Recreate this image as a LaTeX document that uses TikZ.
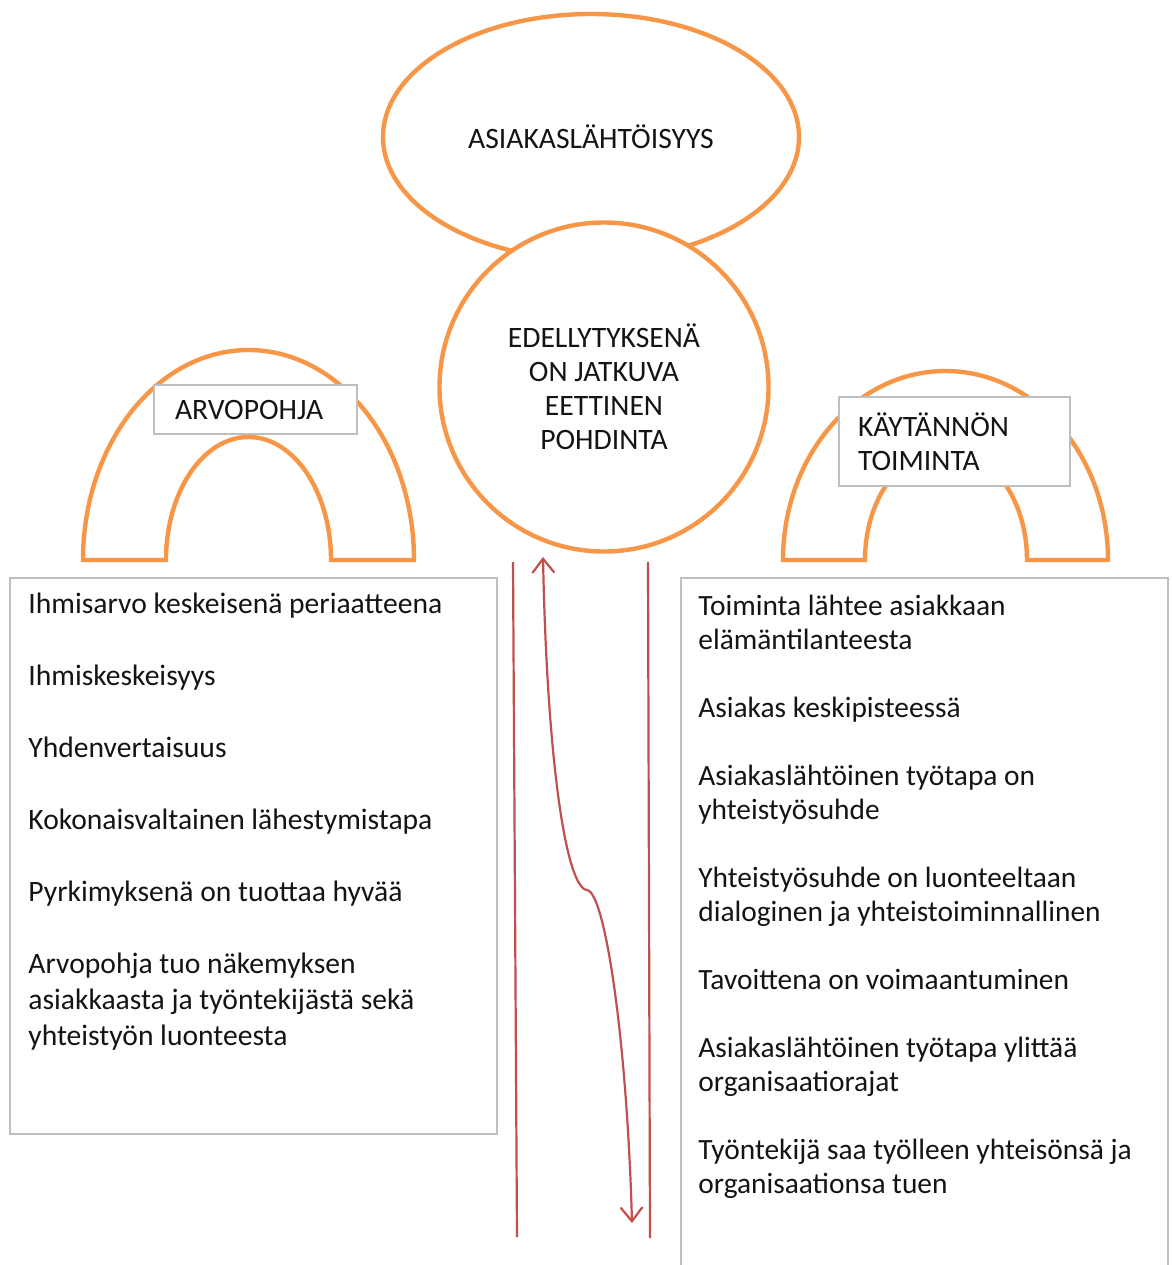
\documentclass[tikz,border=0pt]{standalone}
\usepackage{fontspec}
\setmainfont{Carlito}
\usetikzlibrary{arrows.meta,positioning,shapes.geometric}
\definecolor{archorange}{RGB}{247,150,70}
\definecolor{linered}{RGB}{192,80,77}
\definecolor{boxgray}{RGB}{191,191,191}
\definecolor{fontgray}{RGB}{20,20,20}

\begin{document}
\begin{tikzpicture}[x=0.5pt, y=-0.5pt, >={Straight Barb[length=7pt,width=11pt]},
	bigellipse/.style={draw=archorange, line width=2.2pt, ellipse, fill=white, minimum width=208pt, minimum height=123pt, inner sep=0pt, text=fontgray, font=\fontsize{14.8}{17}\selectfont},
	bigcircle/.style={draw=archorange, line width=2.2pt, circle, fill=white, minimum size=164.5pt, inner sep=0pt, align=center, text=fontgray, font=\fontsize{14.8}{17}\selectfont},
	arch/.style={draw=archorange, line width=2.2pt, fill=white},
	titlebox/.style={draw=boxgray, line width=1pt, fill=white, rectangle, align=left, inner ysep=0pt, text=fontgray, font=\fontsize{14.8}{17}\selectfont},
	listbox/.style={draw=boxgray, line width=1pt, fill=white, rectangle, inner sep=0pt},
	listtext/.style={draw=none, align=left, inner sep=0pt, text=fontgray},
	splitLine/.style={line width=1.1pt, color=linered},
	chainLine/.style={line width=1.1pt, <->, color=linered}
	]
	\useasboundingbox (0,0) rectangle (1172,1265);
	
	\node[bigellipse](asiakas) at (591,137) {ASIAKASLÄHTÖISYYS};
	\node[bigcircle](pohdinta) at (604,387) {EDELLYTYKSENÄ\\ON JATKUVA\\EETTINEN\\POHDINTA};
	
	% arches
	\draw[arch] (83,560) arc[start angle=180, end angle=360, x radius=165.5, y radius=210]
		-- (331,560) arc[start angle=0, end angle=-180, x radius=82.5, y radius=123] -- cycle;
	\draw[arch] (783,560) arc[start angle=180, end angle=360, x radius=162.5, y radius=189]
		-- (1027,560) arc[start angle=0, end angle=-180, x radius=81, y radius=111] -- cycle;
	
	\node[titlebox, inner xsep=10.5pt, text width=80.5pt, minimum height=24.5pt](arvo) at (255.5,409.5) {ARVOPOHJA};
	\node[titlebox, inner xsep=9.5pt, text width=96.5pt, minimum height=44.5pt](kaytanto) at (954.5,441.5) {KÄYTÄNNÖN\\TOIMINTA};
	
	% lists
	\node[listbox, minimum width=243.5pt, minimum height=278pt, anchor=north west](leftbox) at (9,577) {};
	\node[listbox, minimum width=243.5pt, minimum height=347.5pt, anchor=north west](rightbox) at (680,577) {};
	
	\node[listtext, font=\fontsize{14.8}{18}\selectfont, below right=8pt and 9.5pt of leftbox.north west](lefttext) {Ihmisarvo keskeisenä periaatteena\\[18pt]
		Ihmiskeskeisyys\\[18pt]
		Yhdenvertaisuus\\[18pt]
		Kokonaisvaltainen lähestymistapa\\[18pt]
		Pyrkimyksenä on tuottaa hyvää\\[18pt]
		Arvopohja tuo näkemyksen\\asiakkaasta ja työntekijästä sekä\\yhteistyön luonteesta};
	\node[listtext, font=\fontsize{14.7}{17}\selectfont, below right=9pt and 9pt of rightbox.north west](righttext) {Toiminta lähtee asiakkaan\\elämäntilanteesta\\[17pt]
		Asiakas keskipisteessä\\[17pt]
		Asiakaslähtöinen työtapa on\\yhteistyösuhde\\[17pt]
		Yhteistyösuhde on luonteeltaan\\dialoginen ja yhteistoiminnallinen\\[17pt]
		Tavoittena on voimaantuminen\\[17pt]
		Asiakaslähtöinen työtapa ylittää\\organisaatiorajat\\[17pt]
		Työntekijä saa työlleen yhteisönsä ja\\organisaationsa tuen};
	
	% red lines and the arrow between them
	\coordinate (lefttop) at (513,562);
	\coordinate (leftbot) at (517,1237);
	\coordinate (righttop) at (648,562);
	\coordinate (rightbot) at (650,1238);
	\draw[splitLine] (lefttop) -- (leftbot);
	\draw[splitLine] (righttop) -- (rightbot);
	
	\coordinate (arrtop) at (543,557);
	\coordinate (arrknee) at (587,890);
	\coordinate (arrbot) at (632,1223);
	\draw[chainLine] (arrtop) .. controls (547,760) and (566,888) .. (arrknee) .. controls (605,892) and (627,1040) .. (arrbot);
\end{tikzpicture}
\end{document}
